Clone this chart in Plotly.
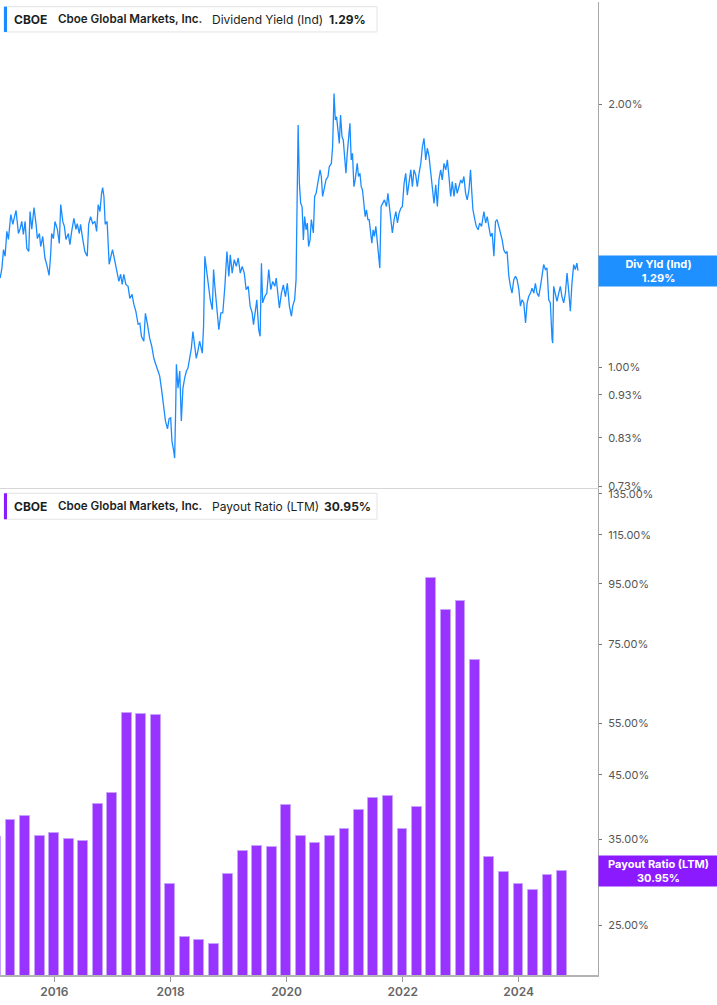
import math
import plotly.graph_objects as go

# ---------------- data ----------------
yield_dates = [
    "2015-01-25", "2015-02-05", "2015-02-15", "2015-02-25", "2015-03-08", "2015-03-18", "2015-04-02", "2015-04-15",
    "2015-04-23", "2015-05-05", "2015-05-20", "2015-05-31", "2015-06-10", "2015-06-20", "2015-07-01", "2015-07-12",
    "2015-07-24", "2015-08-01", "2015-08-12", "2015-08-26", "2015-09-08", "2015-09-16", "2015-09-29", "2015-10-07",
    "2015-10-20", "2015-11-03", "2015-11-14", "2015-11-29", "2015-12-09", "2015-12-15", "2015-12-26",
    "2016-01-05", "2016-01-20", "2016-02-01", "2016-02-10", "2016-02-23", "2016-03-04", "2016-03-14", "2016-03-29",
    "2016-04-08", "2016-04-19", "2016-05-03", "2016-05-16", "2016-05-24", "2016-06-06", "2016-06-14", "2016-06-27",
    "2016-07-11", "2016-07-26", "2016-08-04", "2016-08-16", "2016-08-29", "2016-09-12", "2016-09-23", "2016-10-03",
    "2016-10-14", "2016-10-24", "2016-10-31", "2016-11-08", "2016-11-16", "2016-11-28", "2016-12-11", "2016-12-22",
    "2017-01-01", "2017-01-16", "2017-01-30", "2017-02-10", "2017-02-21", "2017-03-03", "2017-03-13", "2017-03-26",
    "2017-04-09", "2017-04-20", "2017-05-04", "2017-05-15", "2017-05-28", "2017-06-11", "2017-06-22", "2017-07-02",
    "2017-07-17", "2017-07-27", "2017-08-09", "2017-08-23", "2017-09-05", "2017-09-18", "2017-09-30", "2017-10-15",
    "2017-10-25", "2017-11-07", "2017-11-19", "2017-11-30", "2017-12-13", "2017-12-23",
    "2018-01-02", "2018-01-10", "2018-01-21", "2018-01-27", "2018-02-03", "2018-02-07", "2018-02-17", "2018-02-28",
    "2018-03-10", "2018-03-20", "2018-03-31", "2018-04-11", "2018-04-21", "2018-05-01", "2018-05-12", "2018-05-22",
    "2018-06-02", "2018-06-12", "2018-06-22", "2018-07-03", "2018-07-20", "2018-07-28", "2018-08-05", "2018-08-18",
    "2018-08-27", "2018-09-08", "2018-09-21", "2018-09-29", "2018-10-07", "2018-10-20", "2018-11-01", "2018-11-14",
    "2018-11-26", "2018-12-09", "2018-12-22",
    "2019-01-03", "2019-01-12", "2019-01-24", "2019-02-06", "2019-02-19", "2019-03-03", "2019-03-16", "2019-03-28",
    "2019-04-10", "2019-04-22", "2019-05-05", "2019-05-17", "2019-05-30", "2019-06-07", "2019-06-20", "2019-06-28",
    "2019-07-10", "2019-07-19", "2019-07-27", "2019-08-04", "2019-08-17", "2019-08-30", "2019-09-11", "2019-09-24",
    "2019-10-06", "2019-10-19", "2019-10-28", "2019-11-09", "2019-11-17", "2019-11-30", "2019-12-12", "2019-12-25",
    "2020-01-06", "2020-01-19", "2020-02-01", "2020-02-09", "2020-02-21", "2020-03-01", "2020-03-05", "2020-03-14",
    "2020-03-22", "2020-03-30", "2020-04-08", "2020-04-16", "2020-04-24", "2020-05-03", "2020-05-11", "2020-05-19",
    "2020-05-28", "2020-06-05", "2020-06-18", "2020-06-26", "2020-07-05", "2020-07-17", "2020-07-30", "2020-08-07",
    "2020-08-15", "2020-08-28", "2020-09-05", "2020-09-18", "2020-09-26", "2020-10-09", "2020-10-17", "2020-10-26",
    "2020-11-03", "2020-11-11", "2020-11-20", "2020-11-28", "2020-12-06", "2020-12-15", "2020-12-23", "2020-12-31",
    "2021-01-09", "2021-01-17", "2021-01-25", "2021-02-03", "2021-02-11", "2021-02-19", "2021-02-28", "2021-03-08",
    "2021-03-21", "2021-03-29", "2021-04-07", "2021-04-15", "2021-04-23", "2021-05-02", "2021-05-10", "2021-05-18",
    "2021-05-27", "2021-06-04", "2021-06-12", "2021-06-21", "2021-06-29", "2021-07-07", "2021-07-16", "2021-07-24",
    "2021-08-01", "2021-08-10", "2021-08-18", "2021-08-27", "2021-09-08", "2021-09-21", "2021-09-30", "2021-10-08",
    "2021-10-18", "2021-10-28", "2021-11-08", "2021-11-19", "2021-11-29", "2021-12-09", "2021-12-20", "2021-12-30",
    "2022-01-10", "2022-01-20", "2022-01-30", "2022-02-10", "2022-02-21", "2022-03-03", "2022-03-13", "2022-03-24",
    "2022-04-03", "2022-04-14", "2022-04-25", "2022-05-05", "2022-05-15", "2022-05-26", "2022-06-05", "2022-06-16",
    "2022-06-26", "2022-07-06", "2022-07-17", "2022-07-28", "2022-08-07", "2022-08-17", "2022-08-28", "2022-09-07",
    "2022-09-18", "2022-09-29", "2022-10-09", "2022-10-19", "2022-10-30", "2022-11-09", "2022-11-20", "2022-11-30",
    "2022-12-10", "2022-12-21",
    "2023-01-01", "2023-01-11", "2023-01-21", "2023-02-01", "2023-02-11", "2023-02-22", "2023-03-04", "2023-03-11",
    "2023-03-19", "2023-03-31", "2023-04-09", "2023-04-21", "2023-04-30", "2023-05-12", "2023-05-27", "2023-06-07",
    "2023-06-17", "2023-06-27", "2023-07-08", "2023-07-18", "2023-07-29", "2023-08-08", "2023-08-18", "2023-08-29",
    "2023-09-09", "2023-09-19", "2023-09-29", "2023-10-10", "2023-10-20", "2023-10-31", "2023-11-10", "2023-11-20",
    "2023-12-01", "2023-12-12", "2023-12-22",
    "2024-01-02", "2024-01-12", "2024-01-22", "2024-02-02", "2024-02-13", "2024-02-23", "2024-03-04", "2024-03-15",
    "2024-03-25", "2024-04-05", "2024-04-15", "2024-04-25", "2024-05-06", "2024-05-17", "2024-05-27", "2024-06-06",
    "2024-06-17", "2024-06-27", "2024-07-08", "2024-07-18", "2024-07-29", "2024-08-02", "2024-08-08", "2024-08-19",
    "2024-08-29", "2024-09-09", "2024-09-19", "2024-09-29", "2024-10-10", "2024-10-21", "2024-10-31", "2024-11-10",
    "2024-11-21", "2024-12-01", "2024-12-12", "2024-12-22", "2025-01-01", "2025-01-08",
]

yield_values = [
    1.265, 1.299, 1.364, 1.340, 1.431, 1.401, 1.496, 1.458, 1.481, 1.512, 1.423, 1.442, 1.469, 1.420, 1.469, 1.368,
    1.357, 1.508, 1.439, 1.524, 1.458, 1.404, 1.423, 1.375, 1.412, 1.333, 1.312, 1.274, 1.347, 1.423, 1.404,
    1.469, 1.439, 1.386, 1.536, 1.469, 1.450, 1.401, 1.423, 1.382, 1.431, 1.481, 1.439, 1.461, 1.423, 1.458, 1.404,
    1.357, 1.340, 1.458, 1.488, 1.461, 1.469, 1.431, 1.536, 1.508, 1.581, 1.606, 1.569, 1.458, 1.469, 1.312, 1.340,
    1.364, 1.322, 1.288, 1.254, 1.278, 1.244, 1.278, 1.244, 1.238, 1.199, 1.212, 1.181, 1.159, 1.120, 1.123, 1.085,
    1.071, 1.153, 1.120, 1.079, 1.057, 1.024, 1.008, 0.985, 0.977, 0.939, 0.907, 0.868, 0.850, 0.873,
    0.875, 0.823, 0.802, 0.787, 0.907, 1.008, 0.946, 0.990, 0.868, 0.946, 0.972, 0.990, 0.998, 1.024, 1.051, 1.099,
    1.063, 1.024, 1.043, 1.071, 1.038, 1.114, 1.340, 1.282, 1.227, 1.195, 1.164, 1.294, 1.238, 1.175, 1.104, 1.154,
    1.154, 1.238, 1.357,
    1.271, 1.345, 1.282, 1.328, 1.305, 1.334, 1.282, 1.305, 1.282, 1.227, 1.238, 1.175, 1.154, 1.119, 1.164, 1.195,
    1.104, 1.085, 1.316, 1.185, 1.205, 1.216, 1.294, 1.227, 1.254, 1.238, 1.265, 1.216, 1.169, 1.216, 1.243, 1.205,
    1.248, 1.175, 1.144, 1.175, 1.195, 1.260, 1.528, 1.894, 1.625, 1.541, 1.528, 1.399, 1.488, 1.437, 1.463, 1.375,
    1.399, 1.476, 1.425, 1.569, 1.582, 1.639, 1.683, 1.654, 1.569, 1.610, 1.639, 1.654, 1.697, 1.712, 1.789, 2.059,
    1.920, 1.936, 1.870, 1.805, 1.945, 1.837, 1.821, 1.758,
    1.668, 1.758, 1.837, 1.903, 1.728, 1.758, 1.610, 1.639, 1.712, 1.654, 1.668, 1.610, 1.596, 1.528, 1.488, 1.515,
    1.476, 1.476, 1.425, 1.387, 1.437, 1.412, 1.450, 1.399, 1.363, 1.299, 1.528, 1.541, 1.555, 1.528, 1.582, 1.535,
    1.488, 1.425, 1.476, 1.508, 1.463, 1.501, 1.521, 1.528,
    1.625, 1.668, 1.575, 1.639, 1.683, 1.610, 1.683, 1.661, 1.610, 1.668, 1.712, 1.789, 1.829, 1.728, 1.782, 1.743,
    1.668, 1.596, 1.541, 1.618, 1.528, 1.639, 1.683, 1.639, 1.712, 1.683, 1.728, 1.654, 1.569, 1.632, 1.569, 1.625,
    1.582, 1.610,
    1.639, 1.625, 1.654, 1.582, 1.555, 1.596, 1.683, 1.596, 1.515, 1.476, 1.450, 1.437, 1.463, 1.450, 1.508, 1.463,
    1.488, 1.450, 1.412, 1.425, 1.340, 1.469, 1.476, 1.450, 1.425, 1.399, 1.363, 1.351, 1.357, 1.271, 1.238, 1.216,
    1.260, 1.271, 1.260,
    1.227, 1.175, 1.195, 1.185, 1.124, 1.185, 1.205, 1.216, 1.232, 1.216, 1.248, 1.216, 1.205, 1.238, 1.277, 1.311,
    1.294, 1.299, 1.195, 1.185, 1.076, 1.066, 1.238, 1.216, 1.190, 1.216, 1.238, 1.205, 1.185, 1.216, 1.282, 1.227,
    1.159, 1.248, 1.311, 1.294, 1.316, 1.290,
]

payout_dates = [
    "2014-12-31",
    "2015-03-31", "2015-06-30", "2015-09-30", "2015-12-31",
    "2016-03-31", "2016-06-30", "2016-09-30", "2016-12-31",
    "2017-03-31", "2017-06-30", "2017-09-30", "2017-12-31",
    "2018-03-31", "2018-06-30", "2018-09-30", "2018-12-31",
    "2019-03-31", "2019-06-30", "2019-09-30", "2019-12-31",
    "2020-03-31", "2020-06-30", "2020-09-30", "2020-12-31",
    "2021-03-31", "2021-06-30", "2021-09-30", "2021-12-31",
    "2022-03-31", "2022-06-30", "2022-09-30", "2022-12-31",
    "2023-03-31", "2023-06-30", "2023-09-30", "2023-12-31",
    "2024-03-31", "2024-06-30", "2024-09-30",
]
payout_values = [
    35.3,
    37.7, 38.4, 35.4, 35.8,
    35.1, 34.7, 40.2, 42.0,
    57.4, 57.2, 56.8, 29.4,
    23.9, 23.6, 23.2, 30.6,
    33.4, 34.1, 33.9, 40.0,
    35.4, 34.5, 35.4, 36.4,
    39.2, 41.2, 41.5, 36.5,
    39.7, 97.0, 85.7, 88.8,
    70.6, 32.7, 30.8, 29.4,
    28.7, 30.4, 30.95,
]

yield_ticks = [0.73, 0.83, 0.93, 1.00, 2.00]
payout_ticks = [25, 35, 45, 55, 75, 95, 115, 135]
year_ticks = ["2016-01-01", "2018-01-01", "2020-01-01", "2022-01-01", "2024-01-01"]
year_labels = ["2016", "2018", "2020", "2022", "2024"]

ticker = "CBOE"
company = "Cboe Global Markets, Inc."
yield_name = "Dividend Yield (Ind)"
payout_name = "Payout Ratio (LTM)"
last_yield = 1.29
last_payout = 30.95

# ---------------- style ----------------
BLUE = "#1a8cff"
BLUE_BOX = "#1e90ff"
PURPLE = "#9933ff"
PURPLE_EDGE = "#c8a2ff"
PURPLE_BOX = "#8c1aff"
FONT = "Inter"
TXT = "#1b1f24"

W, H = 717, 1005
ML, MR, MT, MB = 0, 119, 0, 30
PW = W - ML - MR
PH = H - MT - MB

def px_x(px):
    return px / PW

def px_y(py):
    return 1 - py / PH

fig = go.Figure()

fig.add_trace(go.Scatter(
    x=yield_dates, y=yield_values, mode="lines",
    line=dict(color=BLUE, width=1.3),
    xaxis="x2", yaxis="y", hoverinfo="skip",
))

fig.add_trace(go.Bar(
    x=payout_dates, y=payout_values,
    width=62 * 86400000,
    marker=dict(color=PURPLE, line=dict(color=PURPLE_EDGE, width=1)),
    xaxis="x", yaxis="y2", hoverinfo="skip",
))

xrange = ["2015-01-24", "2025-05-14"]
top_dom = [1 - 487 / PH, 1]
bot_dom = [0, 1 - 488 / PH]

fig.update_layout(
    width=W, height=H,
    margin=dict(l=ML, r=MR, t=MT, b=MB),
    paper_bgcolor="white", plot_bgcolor="white",
    showlegend=False,
    bargap=0,
    font=dict(family=FONT, color="#555"),
    xaxis=dict(
        domain=[0, 1], anchor="y2", type="date", range=xrange,
        tickvals=year_ticks, ticktext=year_labels,
        showgrid=False, zeroline=False,
        showline=True, linecolor="#b4b4b4", linewidth=2,
        ticks="outside", ticklen=5, tickcolor="#9a9a9a", tickwidth=1,
        tickfont=dict(family=FONT, size=12, color="#666", weight=600),
    ),
    xaxis2=dict(
        domain=[0, 1], anchor="y", type="date", matches="x",
        showticklabels=False, ticks="", showgrid=False, zeroline=False,
        showline=True, linecolor="#d6d6d6", linewidth=1,
    ),
    yaxis=dict(
        domain=top_dom, anchor="x2", type="log", side="right",
        range=[(366 - 487) / 874.7, 366 / 874.7],
        tickvals=yield_ticks, ticktext=[f"{v:.2f}%" for v in yield_ticks],
        showgrid=False, zeroline=False,
        showline=True, linecolor="#a8a8a8", linewidth=1,
        ticks="outside", ticklen=3, tickcolor="#777",
        ticklabelstandoff=4,
        tickfont=dict(family=FONT, size=11, color="#555"),
    ),
    yaxis2=dict(
        domain=bot_dom, anchor="x", type="log", side="right",
        range=[1.3137, 2.1386],
        tickvals=payout_ticks, ticktext=[f"{v:.2f}%" for v in payout_ticks],
        showgrid=False, zeroline=False,
        showline=True, linecolor="#a8a8a8", linewidth=1,
        ticks="outside", ticklen=3, tickcolor="#777",
        ticklabelstandoff=4,
        tickfont=dict(family=FONT, size=11, color="#555"),
    ),
)

shapes = []
annotations = []

def legend(top_px, bottom_px, accent, metric, value, value_px):
    shapes.append(dict(type="rect", xref="paper", yref="paper",
                       x0=px_x(4), x1=px_x(377), y0=px_y(bottom_px), y1=px_y(top_px),
                       line=dict(color="#e3e3e3", width=1), fillcolor="white", layer="above"))
    shapes.append(dict(type="rect", xref="paper", yref="paper",
                       x0=px_x(4), x1=px_x(7), y0=px_y(bottom_px), y1=px_y(top_px),
                       line=dict(width=0), fillcolor=accent, layer="above"))
    cy = px_y((top_px + bottom_px) / 2)
    parts = [(ticker, 12, 13.3), (company, 11.6, 56.7), (metric, 12, 211), (value, 12, value_px)]
    weights = [700, 600, 400, 700]
    for (txt, size, xpx), wgt in zip(parts, weights):
        annotations.append(dict(xref="paper", yref="paper", x=px_x(xpx - 1), y=cy,
                                xanchor="left", yanchor="middle", showarrow=False,
                                text=txt, font=dict(family=FONT, size=size, color=TXT, weight=wgt)))

legend(4.7, 30, BLUE, yield_name, f"{last_yield:.2f}%", 328)
legend(492.3, 518.3, PURPLE_BOX, payout_name, f"{last_payout:.2f}%", 323)

annotations.append(dict(
    xref="paper", yref="y", x=1, y=math.log10(last_yield), xanchor="left", yanchor="middle",
    showarrow=False, text=f"<b>Div Yld (Ind)</b><br><b>{last_yield:.2f}%</b>",
    font=dict(family=FONT, size=11, color="white"), bgcolor=BLUE_BOX,
    width=119, height=30, borderpad=0, align="center",
))
annotations.append(dict(
    xref="paper", yref="y2", x=1, y=math.log10(last_payout), xanchor="left", yanchor="middle",
    showarrow=False, text=f"<b>{payout_name}</b><br><b>{last_payout:.2f}%</b>",
    font=dict(family=FONT, size=11, color="white"), bgcolor=PURPLE_BOX,
    width=119, height=30, borderpad=0, align="center",
))

fig.update_layout(shapes=shapes, annotations=annotations)

fig.write_html(
    "out.html",
    config={"displayModeBar": False},
    post_script="document.body.style.margin='0';document.body.style.padding='0';"
                "document.body.style.overflow='hidden';",
)
